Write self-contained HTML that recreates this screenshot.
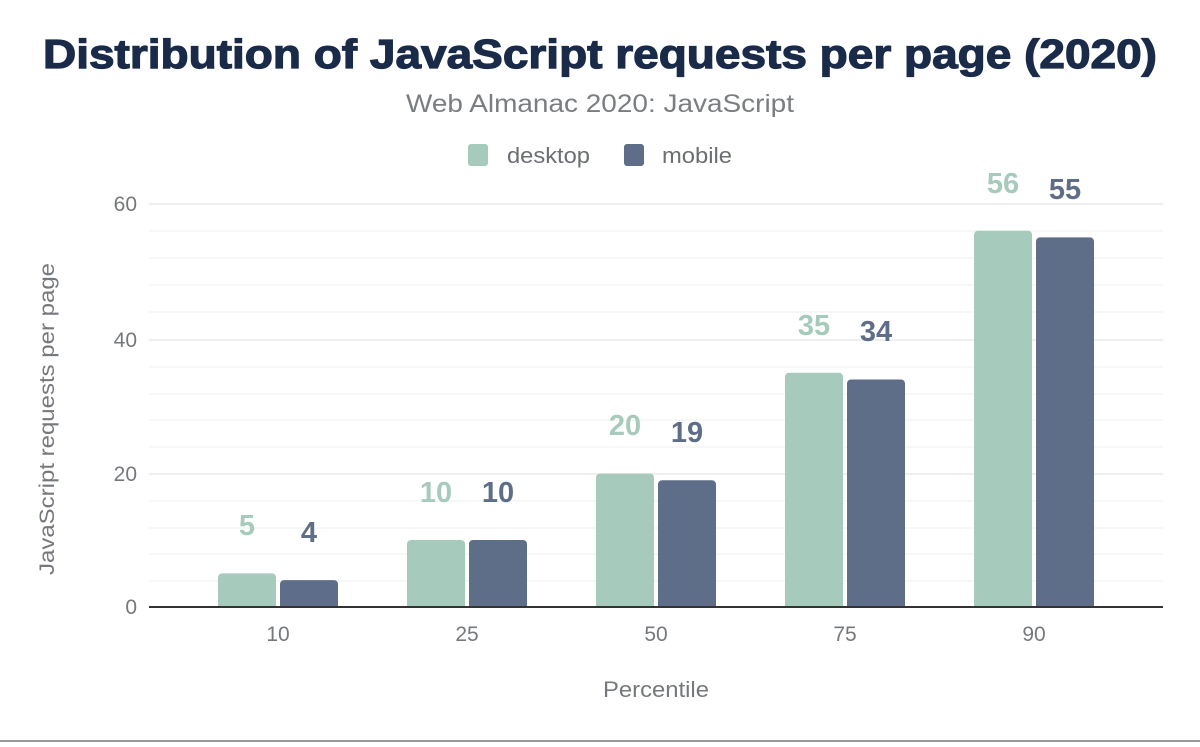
<!DOCTYPE html>
<html><head><meta charset="utf-8"><style>html,body{margin:0;padding:0;background:#fff}</style></head><body>
<svg width="1200" height="742" xmlns="http://www.w3.org/2000/svg" font-family="Liberation Sans, Arial, sans-serif">
<rect width="1200" height="742" fill="#fff"/>
<text x="600" y="68" text-anchor="middle" font-size="41" font-weight="bold" fill="#1a2b49" textLength="1114" lengthAdjust="spacingAndGlyphs" stroke="#1a2b49" stroke-width="1.2">Distribution of JavaScript requests per page (2020)</text>
<text x="600" y="112" text-anchor="middle" font-size="25" fill="#7a7d81" textLength="388" lengthAdjust="spacingAndGlyphs">Web Almanac 2020: JavaScript</text>
<rect x="468" y="144" width="20" height="22" rx="3" fill="#a6cabb"/>
<text x="507" y="163" font-size="22" fill="#6b6e72" textLength="83" lengthAdjust="spacingAndGlyphs">desktop</text>
<rect x="624" y="144" width="20" height="22" rx="3" fill="#5f6e88"/>
<text x="662" y="163" font-size="22" fill="#6b6e72" textLength="70" lengthAdjust="spacingAndGlyphs">mobile</text>
<g stroke-width="2">
<line x1="149" x2="1163" y1="231" y2="231" stroke="#f7f7f7"/>
<line x1="149" x2="1163" y1="258" y2="258" stroke="#f7f7f7"/>
<line x1="149" x2="1163" y1="285" y2="285" stroke="#f7f7f7"/>
<line x1="149" x2="1163" y1="312" y2="312" stroke="#f7f7f7"/>
<line x1="149" x2="1163" y1="367" y2="367" stroke="#f7f7f7"/>
<line x1="149" x2="1163" y1="394" y2="394" stroke="#f7f7f7"/>
<line x1="149" x2="1163" y1="420" y2="420" stroke="#f7f7f7"/>
<line x1="149" x2="1163" y1="447" y2="447" stroke="#f7f7f7"/>
<line x1="149" x2="1163" y1="501" y2="501" stroke="#f7f7f7"/>
<line x1="149" x2="1163" y1="528" y2="528" stroke="#f7f7f7"/>
<line x1="149" x2="1163" y1="554" y2="554" stroke="#f7f7f7"/>
<line x1="149" x2="1163" y1="581" y2="581" stroke="#f7f7f7"/>
<line x1="149" x2="1163" y1="204" y2="204" stroke="#efefef"/>
<line x1="149" x2="1163" y1="340" y2="340" stroke="#efefef"/>
<line x1="149" x2="1163" y1="474" y2="474" stroke="#efefef"/>
</g>
<g font-size="21" fill="#75787c" text-anchor="end">
<text x="137" y="211">60</text><text x="137" y="347">40</text><text x="137" y="481">20</text><text x="137" y="614">0</text>
</g>
<text transform="translate(54,419) rotate(-90)" text-anchor="middle" font-size="21" fill="#75787c" textLength="312" lengthAdjust="spacingAndGlyphs">JavaScript requests per page</text>
<g fill="#a6cabb">
<path d="M218,607V577.4a4,4 0 0 1 4,-4H272a4,4 0 0 1 4,4V607Z"/>
<path d="M407,607V544a4,4 0 0 1 4,-4H461a4,4 0 0 1 4,4V607Z"/>
<path d="M596,607V477.6a4,4 0 0 1 4,-4H650a4,4 0 0 1 4,4V607Z"/>
<path d="M785,607V376.8a4,4 0 0 1 4,-4H839a4,4 0 0 1 4,4V607Z"/>
<path d="M974,607V234.7a4,4 0 0 1 4,-4H1028a4,4 0 0 1 4,4V607Z"/>
</g>
<g fill="#5f6e88">
<path d="M280,607V584.1a4,4 0 0 1 4,-4H334a4,4 0 0 1 4,4V607Z"/>
<path d="M469,607V544a4,4 0 0 1 4,-4H523a4,4 0 0 1 4,4V607Z"/>
<path d="M658,607V484.3a4,4 0 0 1 4,-4H712a4,4 0 0 1 4,4V607Z"/>
<path d="M847,607V383.5a4,4 0 0 1 4,-4H901a4,4 0 0 1 4,4V607Z"/>
<path d="M1036,607V241.4a4,4 0 0 1 4,-4H1090a4,4 0 0 1 4,4V607Z"/>
</g>
<line x1="149" x2="1163" y1="607" y2="607" stroke="#333" stroke-width="2"/>
<g font-size="29" font-weight="bold" text-anchor="middle">
<g fill="#a6cabb">
<text x="247" y="535">5</text><text x="436" y="502">10</text><text x="625" y="435">20</text><text x="814" y="335">35</text><text x="1003" y="193">56</text>
</g>
<g fill="#5f6e88">
<text x="309" y="542">4</text><text x="498" y="502">10</text><text x="687" y="442">19</text><text x="876" y="341">34</text><text x="1065" y="199">55</text>
</g>
</g>
<g font-size="21" fill="#75787c" text-anchor="middle">
<text x="278" y="641">10</text><text x="467" y="641">25</text><text x="656" y="641">50</text><text x="845" y="641">75</text><text x="1034" y="641">90</text>
</g>
<text x="656" y="697" text-anchor="middle" font-size="22" fill="#75787c" textLength="106" lengthAdjust="spacingAndGlyphs">Percentile</text>
<line x1="0" x2="1200" y1="741" y2="741" stroke="#9a9a9a" stroke-width="2"/>
</svg>
</body></html>
